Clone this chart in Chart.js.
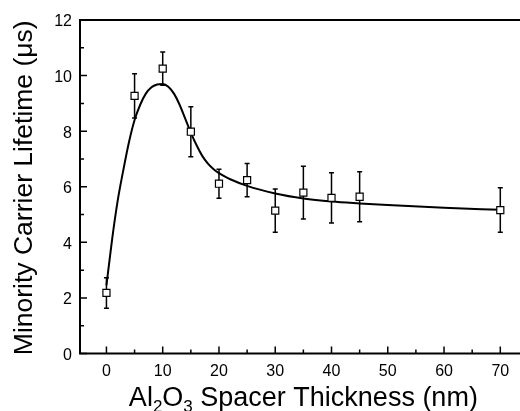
<!DOCTYPE html>
<html>
<head>
<meta charset="utf-8">
<script src="https://cdn.jsdelivr.net/npm/chart.js@4/dist/chart.umd.min.js"></script>
<style>
  html, body { margin: 0; padding: 0; background: #fff; overflow: hidden; }
  canvas { display: block; }
</style>
</head>
<body>
<canvas id="c" width="520" height="411"></canvas>
<script>
// Measured data (Al2O3 spacer thickness in nm, minority carrier lifetime in µs)
const thickness   = [0, 5, 10, 15, 20, 25, 30, 35, 40, 45, 70];
const lifetime    = [2.18, 9.27, 10.25, 7.98, 6.11, 6.24, 5.14, 5.79, 5.60, 5.64, 5.16];
const lifetimeErr = [0.55, 0.80, 0.60, 0.90, 0.52, 0.60, 0.78, 0.95, 0.90, 0.90, 0.80];

// Fitted curve
const fitX = [0, 1, 2, 3, 4, 5, 6, 7, 8, 9, 10, 11, 12, 13, 14, 15, 16, 17, 18, 19, 20, 21, 22, 25, 30, 35, 40, 45, 50, 60, 70];
const fitY = [2.45, 4.1, 5.5, 6.6, 7.6, 8.4, 8.95, 9.35, 9.58, 9.68, 9.70, 9.6, 9.35, 8.95, 8.45, 7.95, 7.5, 7.12, 6.84, 6.64, 6.49, 6.37, 6.27, 6.03, 5.76, 5.58, 5.47, 5.40, 5.34, 5.24, 5.17];

// Tick labels
const xTicks = [0, 10, 20, 30, 40, 50, 60, 70];
const xMinorTicks = [5, 15, 25, 35, 45, 55, 65];
const yTicks = [0, 2, 4, 6, 8, 10, 12];
const yMinorTicks = [1, 3, 5, 7, 9, 11];

const yTitle = 'Minority Carrier Lifetime (\u03bcs)';
const xTitleParts = [['Al', 0], ['2', 1], ['O', 0], ['3', 1], [' Spacer Thickness (nm)', 0]];

const FONT = '"Liberation Sans", Arial, sans-serif';

const decor = {
  id: 'decor',
  beforeDatasetsDraw(chart) {
    const { ctx, scales: { x, y } } = chart;
    ctx.save();
    ctx.strokeStyle = '#000';
    ctx.lineWidth = 1.5;
    thickness.forEach((t, i) => {
      const px = x.getPixelForValue(t);
      const top = y.getPixelForValue(lifetime[i] + lifetimeErr[i]);
      const bot = y.getPixelForValue(lifetime[i] - lifetimeErr[i]);
      ctx.beginPath();
      ctx.moveTo(px, top); ctx.lineTo(px, bot);
      ctx.moveTo(px - 2.5, top); ctx.lineTo(px + 2.5, top);
      ctx.moveTo(px - 2.5, bot); ctx.lineTo(px + 2.5, bot);
      ctx.stroke();
    });
    ctx.restore();
  },
  afterDraw(chart) {
    const { ctx, chartArea: a, scales: { x, y } } = chart;
    ctx.save();
    ctx.strokeStyle = '#000';
    ctx.fillStyle = '#000';
    // axis frame: left, bottom, top (plot continues past the right edge)
    ctx.lineWidth = 2;
    ctx.beginPath();
    ctx.moveTo(a.left, a.top - 1);
    ctx.lineTo(a.left, a.bottom + 1);
    ctx.moveTo(a.left - 1, a.bottom);
    ctx.lineTo(chart.width, a.bottom);
    ctx.moveTo(a.left - 1, a.top);
    ctx.lineTo(chart.width, a.top);
    ctx.stroke();
    // inward ticks
    ctx.lineWidth = 1.5;
    ctx.beginPath();
    xTicks.forEach(v => { const p = x.getPixelForValue(v); ctx.moveTo(p, a.bottom); ctx.lineTo(p, a.bottom - 7); });
    xMinorTicks.forEach(v => { const p = x.getPixelForValue(v); ctx.moveTo(p, a.bottom); ctx.lineTo(p, a.bottom - 4); });
    yTicks.forEach(v => { const p = y.getPixelForValue(v); ctx.moveTo(a.left, p); ctx.lineTo(a.left + 7, p); });
    yMinorTicks.forEach(v => { const p = y.getPixelForValue(v); ctx.moveTo(a.left, p); ctx.lineTo(a.left + 4, p); });
    ctx.stroke();

    // y title
    ctx.save();
    ctx.translate(32, (a.top + a.bottom) / 2 + 1);
    ctx.rotate(-Math.PI / 2);
    ctx.font = '26.5px ' + FONT;
    ctx.textAlign = 'center';
    ctx.textBaseline = 'alphabetic';
    ctx.fillText(yTitle, 0, 0);
    ctx.restore();

    // x title with subscripts
    const mainFont = '27px ' + FONT, subFont = '17px ' + FONT;
    let total = 0;
    xTitleParts.forEach(([s, sub]) => { ctx.font = sub ? subFont : mainFont; total += ctx.measureText(s).width; });
    let cx = x.getPixelForValue(35) - total / 2;
    const base = 406;
    ctx.textAlign = 'left';
    ctx.textBaseline = 'alphabetic';
    xTitleParts.forEach(([s, sub]) => {
      ctx.font = sub ? subFont : mainFont;
      ctx.fillText(s, cx, sub ? base + 6 : base);
      cx += ctx.measureText(s).width;
    });
    ctx.restore();
  }
};

new Chart(document.getElementById('c'), {
  type: 'scatter',
  data: {
    datasets: [
      {
        label: 'Lifetime',
        data: thickness.map((t, i) => ({ x: t, y: lifetime[i] })),
        pointStyle: 'rect',
        pointRadius: 5,
        pointBorderWidth: 1.2,
        pointBorderColor: '#000',
        pointBackgroundColor: '#fff',
        showLine: false
      },
      {
        label: 'Fit',
        data: fitX.map((v, i) => ({ x: v, y: fitY[i] })),
        showLine: true,
        borderColor: '#000',
        borderWidth: 2,
        pointRadius: 0,
        cubicInterpolationMode: 'monotone',
        fill: false
      }
    ]
  },
  options: {
    responsive: false,
    animation: false,
    devicePixelRatio: 1,
    layout: { padding: { top: 20, right: 0, bottom: 0, left: 0 } },
    plugins: { legend: { display: false }, tooltip: { enabled: false } },
    scales: {
      x: {
        type: 'linear',
        min: -4.7,
        max: 72.4,
        afterBuildTicks: s => { s.ticks = xTicks.map(v => ({ value: v })); },
        afterFit: s => { s.height = 57.5; },
        grid: { display: false },
        border: { display: false },
        ticks: { color: '#000', font: { family: FONT, size: 16 }, padding: 0, maxRotation: 0, autoSkip: false }
      },
      y: {
        type: 'linear',
        min: 0,
        max: 12,
        afterBuildTicks: s => { s.ticks = yTicks.map(v => ({ value: v })); },
        afterFit: s => { s.width = 80; },
        grid: { display: false },
        border: { display: false },
        ticks: { color: '#000', font: { family: FONT, size: 16 }, padding: 0, labelOffset: 2 }
      }
    }
  },
  plugins: [decor]
});
</script>
</body>
</html>
